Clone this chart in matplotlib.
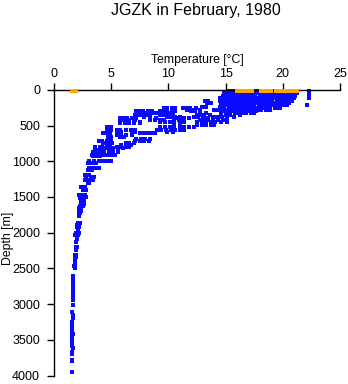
import matplotlib
matplotlib.use("Agg")
import matplotlib.pyplot as plt

plt.rcParams['font.family'] = ['Liberation Sans', 'DejaVu Sans']

# Surface observations (orange)
surface_depth = 15
surface_temp = [1.6, 1.9, 16.0, 16.3, 16.6, 17.0, 17.3, 18.1, 18.4, 18.7,
                19.0, 19.4, 19.7, 20.0, 20.3, 20.6, 20.9, 21.2]

# Upper layer: depth rows (m) with the temperatures observed at each (degC)
upper_depth = [15, 45, 60, 80, 110, 130, 150, 180, 210, 235, 255, 280, 300,
               325, 350, 375, 400, 420, 445, 470, 490]
upper_temps = [
    [15.3, 15.6, 15.9, 16.2, 16.6, 16.8, 17.1, 17.5, 17.7, 18.0, 18.3, 18.7,
     18.9, 19.2, 19.5, 19.9, 20.1, 20.4, 20.7, 21.0],
    [14.9, 15.2, 15.5, 15.8, 16.1, 16.5, 16.9, 17.2, 17.4, 17.8, 18.1, 18.4,
     18.8, 19.0, 19.4, 19.7, 20.0, 20.3, 20.6, 20.9, 21.2],
    [15.0, 15.4, 15.7, 16.3, 16.7, 17.0, 17.6, 18.2, 18.6, 19.1, 19.6, 20.2,
     20.5, 21.0],
    [14.8, 15.1, 15.4, 15.8, 16.0, 16.4, 16.7, 17.1, 17.3, 17.6, 18.0, 18.3,
     18.6, 19.0, 19.3, 19.5, 19.9, 20.2, 20.5, 20.8, 21.1],
    [14.5, 14.9, 15.2, 15.5, 15.9, 16.2, 16.5, 16.8, 17.2, 17.5, 17.8, 18.1,
     18.5, 18.8, 19.1, 19.4, 19.8, 20.1, 20.4, 20.7, 21.0],
    [14.7, 15.0, 15.6, 16.0, 16.4, 16.9, 17.3, 17.7, 18.2, 18.7, 19.0, 19.6,
     20.0, 20.6],
    [13.2, 13.5, 14.5, 14.8, 15.2, 15.5, 15.8, 16.1, 16.5, 16.9, 17.2, 17.5,
     17.8, 18.1, 18.5, 18.8, 19.1, 19.5, 19.8, 20.1, 20.4, 20.8],
    [13.4, 13.7, 14.6, 14.9, 15.3, 15.6, 15.9, 16.3, 16.6, 16.9, 17.2, 17.6,
     17.9, 18.2, 18.6, 18.9, 19.2, 19.5, 19.9, 20.2, 20.5],
    [14.6, 14.9, 15.2, 15.6, 15.9, 16.2, 16.6, 16.9, 17.2, 17.5, 17.9, 18.2,
     18.5, 18.9, 19.2, 19.5, 19.8, 20.1, 20.4, 22.1],
    [12.9, 13.3, 14.5, 14.9, 15.4, 15.8, 16.3, 16.7, 17.0, 17.5, 18.0, 18.4,
     18.9, 19.3],
    [9.6, 9.9, 10.3, 10.6, 11.3, 11.6, 11.9, 12.4, 14.6, 14.9, 15.3, 15.6,
     16.0, 16.3, 16.6, 17.0, 17.3, 17.6, 17.9, 18.3, 18.6, 18.9, 19.3, 19.6,
     19.8],
    [11.6, 11.9, 12.2, 12.8, 14.0, 14.3, 14.7, 15.0, 15.4, 15.7, 16.0, 16.4,
     16.8, 17.1, 17.4, 17.8, 18.1, 18.5, 18.9],
    [7.2, 7.5, 7.8, 8.2, 8.6, 9.3, 9.6, 9.9, 10.3, 10.6, 12.0, 12.3, 12.8,
     14.6, 14.9, 15.3, 15.6, 15.9, 16.3, 16.6, 17.0, 17.3, 17.7],
    [7.2, 7.5, 7.9, 8.4, 8.7, 9.0, 9.4, 10.1, 12.8, 13.3, 15.1, 15.4, 15.8,
     16.1, 16.5, 16.8, 17.2, 17.5],
    [7.1, 7.4, 7.7, 8.2, 9.3, 9.6, 10.0, 10.4, 12.5, 12.8, 13.1, 13.6, 14.6,
     15.0, 15.4, 16.3],
    [7.9, 8.4, 9.9, 10.2, 10.6, 11.0, 12.2, 12.6, 13.0, 14.0, 14.3, 14.7,
     15.1, 15.7],
    [5.8, 6.1, 6.4, 6.8, 7.2, 8.4, 8.9, 10.7, 11.0, 11.4, 11.8, 13.1, 13.5,
     13.9, 14.3],
    [5.8, 6.1, 6.5, 7.1, 8.4, 8.8, 9.3, 9.6, 10.5, 10.9, 11.3, 12.8, 13.1,
     13.5, 13.9, 14.3, 14.8, 15.1],
    [6.3, 6.6, 7.0, 7.5, 9.3, 9.7, 10.1, 11.0, 11.4, 12.5, 12.9, 13.3, 13.7,
     14.1, 14.6, 15.1],
    [5.8, 6.2, 6.6, 7.0, 7.5, 10.5, 11.0],
    [12.5, 12.9, 13.3, 13.7, 14.0],
]

# Warm column at the surface station
column_depth = [10, 30, 50, 70, 90, 110]
column_temp = [22.3, 22.3, 22.3, 22.3, 22.3, 22.3]

# Thermocline layer
mid_depth = [515, 560, 585, 605, 630, 665, 690, 715, 740, 770, 795, 815, 840,
             875, 910, 930, 995, 1025, 1095, 1120, 1190, 1220, 1260, 1300,
             1365, 1400, 1470, 1500]
mid_temps = [
    [4.6, 5.0, 9.3, 9.7, 10.1, 10.5, 11.0, 11.4, 11.8, 12.2],
    [4.6, 5.0, 5.5, 5.8, 6.3, 6.7, 7.1, 9.0, 9.4, 9.8, 10.2, 10.6, 11.0, 11.4],
    [5.5, 5.9, 6.8, 7.1, 9.9, 10.4],
    [4.3, 4.6, 4.9, 7.5, 7.8, 8.1, 8.5, 8.8],
    [5.5, 5.9, 6.3, 6.8],
    [4.7, 5.0, 5.8, 6.1],
    [7.2, 7.6, 8.0, 8.4],
    [3.9, 4.2, 4.6, 5.0, 7.1, 7.5, 7.9, 8.3],
    [4.3, 4.7, 5.1, 6.3, 6.6, 7.0],
    [4.6, 4.9, 5.9, 6.3, 6.7],
    [3.6, 4.0, 4.2, 5.5, 5.9, 6.3, 6.6],
    [4.2, 4.5, 4.8, 5.2, 5.6, 6.0],
    [3.6, 3.9, 4.2],
    [3.4, 3.8, 4.0, 4.4, 4.8, 5.2, 5.6],
    [3.3, 3.6, 4.0, 4.3, 4.6, 5.0, 5.3],
    [3.4, 3.8, 4.0],
    [3.1, 3.5, 3.9, 4.3, 4.6, 5.0],
    [3.0, 3.3, 3.7],
    [3.1, 3.4, 3.7, 3.9],
    [3.0, 3.3],
    [2.7, 3.0, 3.1],
    [2.8, 3.2, 3.5],
    [2.7, 3.1, 3.4],
    [3.0, 3.1],
    [2.4, 2.6, 2.7],
    [2.5, 2.8],
    [2.2, 2.5, 2.7],
    [2.4, 2.7, 2.8],
]

# Deep water
deep_depth = [1520, 1520, 1560, 1560, 1600, 1600, 1630, 1630, 1660, 1660,
              1690, 1690, 1720, 1720, 1760, 1860, 1860, 1890, 1890, 1920, 1920,
              1950, 2000, 2000, 2030, 2030, 2090, 2130, 2200, 2200, 2240, 2310,
              2310, 2340, 2340, 2380, 2430, 2470, 2470, 2500, 2600, 2650, 2700,
              2750, 2800, 2850, 2900, 2940, 3010, 3110, 3150, 3200, 3250, 3300,
              3330, 3390, 3420, 3420, 3450, 3500, 3540, 3580, 3610, 3670, 3700,
              3780, 3800, 3950]
deep_temp = [2.3, 2.6, 2.4, 2.6, 2.4, 2.6, 2.3, 2.5, 2.2, 2.4,
             2.2, 2.4, 2.2, 2.3, 2.2, 2.1, 2.3, 2.0, 2.2, 2.0, 2.2,
             2.1, 1.9, 2.2, 1.8, 2.1, 2.0, 1.95, 1.9, 2.0, 1.9, 1.8,
             1.95, 1.8, 1.9, 1.85, 1.8, 1.75, 1.85, 1.8, 1.7, 1.7, 1.7,
             1.65, 1.7, 1.65, 1.7, 1.65, 1.7, 1.6, 1.65, 1.65, 1.6, 1.6,
             1.55, 1.6, 1.55, 1.65, 1.6, 1.6, 1.6, 1.55, 1.65, 1.55, 1.6,
             1.6, 1.6, 1.6]

x_ticks = [0, 5, 10, 15, 20, 25]
y_ticks = [0, 500, 1000, 1500, 2000, 2500, 3000, 3500, 4000]

BLUE = '#0a0aff'
ORANGE = '#ffa500'

# small flat rectangle, slightly wider than tall
RECT = [(-1.3, -1.0), (1.3, -1.0), (1.3, 1.0), (-1.3, 1.0), (-1.3, -1.0)]


def flatten(depths, temps):
    xs, ys = [], []
    for d, row in zip(depths, temps):
        xs.extend(row)
        ys.extend([d] * len(row))
    return xs, ys


fig = plt.figure(figsize=(3.48, 3.84), dpi=100)
ax = fig.add_axes([0.155, 0.022, 0.822, 0.744])

mk = dict(ls='none', marker=RECT, ms=3.1, mew=0, antialiased=False,
          clip_on=False)
ux, uy = flatten(upper_depth, upper_temps)
mx, my = flatten(mid_depth, mid_temps)
ax.plot(ux, uy, color=BLUE, **mk)
ax.plot(mx, my, color=BLUE, **mk)
ax.plot(deep_temp, deep_depth, color=BLUE, **mk)
ax.plot(column_temp, column_depth, color=BLUE, **mk)
ax.plot(surface_temp, [surface_depth] * len(surface_temp), color=ORANGE,
        zorder=5, **mk)

ax.set_xlim(0, 25)
ax.set_ylim(4000, 0)
ax.set_xticks(x_ticks)
ax.set_yticks(y_ticks)
ax.xaxis.tick_top()
for s in ('right', 'bottom'):
    ax.spines[s].set_visible(False)
for s in ('left', 'top'):
    ax.spines[s].set_linewidth(1.0)
ax.tick_params(axis='both', direction='out', length=5, width=1,
               labelsize=9, colors='black')
ax.tick_params(axis='x', pad=2)
ax.tick_params(axis='y', pad=5)

fig.text(197 / 348, 1 - 60 / 384, 'Temperature [°C]', ha='center',
         va='center', fontsize=8.8)
fig.text(8 / 348, 1 - 238 / 384, 'Depth [m]', ha='center', va='center',
         rotation=90, fontsize=8.8)
fig.text(196 / 348, 1 - 11 / 384, 'JGZK in February, 1980', ha='center',
         va='center', fontsize=11.5)

fig.savefig('out.png', dpi=100)
